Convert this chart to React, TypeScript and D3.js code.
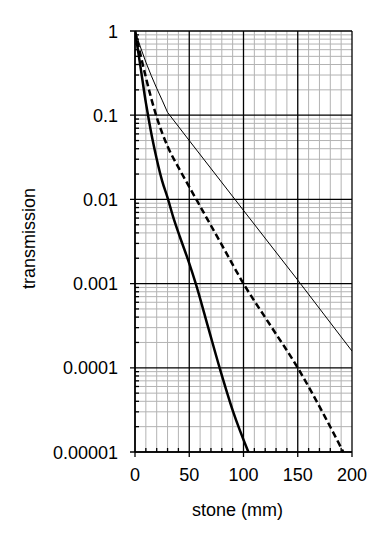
import React from "react";
import * as d3 from "d3";

const xTicks = [0, 50, 100, 150, 200];
const yTicks = [1, 0.1, 0.01, 0.001, 0.0001, 0.00001];
const yTickLabels = ["1", "0.1", "0.01", "0.001", "0.0001", "0.00001"];

const thinX = [0, 5, 10, 15, 20, 25, 30, 50, 100, 150, 200];
const thinT = [1, 0.646, 0.427, 0.295, 0.209, 0.151, 0.108, 0.05, 0.0074, 0.0011, 0.000158];

const dashedX = [0, 5, 10, 15, 20, 25, 30, 40, 50, 60, 80, 100, 125, 150, 175, 192];
const dashedT = [1, 0.525, 0.282, 0.158, 0.095, 0.0617, 0.0427, 0.024, 0.0141, 0.0083, 0.00288, 0.001, 0.000316, 0.0001, 0.0000263, 0.00001];

const thickX = [0, 5, 10, 12, 16, 20, 25, 30, 35, 41.5, 50, 56, 67.5, 78, 90.5, 104.5];
const thickT = [1, 0.38, 0.141, 0.1, 0.0525, 0.0302, 0.0166, 0.0105, 0.0063, 0.00355, 0.00174, 0.001, 0.0003, 0.0001, 0.00003, 0.00001];

const W = 386, H = 545;
const L = 135, R = 352, T = 31, B = 452;

export default function App() {
  const x = d3.scaleLinear().domain([0, 200]).range([L, R]);
  const y = d3.scaleLog().domain([0.00001, 1]).range([B, T]);

  const minorX = d3.range(10, 200, 10).filter((v) => v % 50 !== 0);
  const minorY: number[] = [];
  for (let e = -5; e < 0; e++) {
    for (let k = 2; k <= 9; k++) minorY.push(k * Math.pow(10, e));
  }

  const lineLin = d3
    .line<[number, number]>()
    .x((d) => x(d[0]))
    .y((d) => y(d[1]));
  const lineSmooth = d3
    .line<[number, number]>()
    .x((d) => x(d[0]))
    .y((d) => y(d[1]))
    .curve(d3.curveMonotoneX);

  const mk = (xs: number[], ts: number[]) => xs.map((v, i) => [v, ts[i]] as [number, number]);

  const font = "Arial, 'Liberation Sans', sans-serif";

  return (
    <svg width={W} height={H} style={{ position: "absolute", left: 0, top: 0, background: "#fff" }} fontFamily={font}>
      <defs>
        <clipPath id="plot">
          <rect x={L} y={T - 1} width={R - L} height={B - T + 2} />
        </clipPath>
      </defs>
      {minorX.map((v) => (
        <line key={"mx" + v} x1={x(v)} x2={x(v)} y1={T} y2={B} stroke="#b3b3b3" strokeWidth={1} />
      ))}
      {minorY.map((v, i) => (
        <line key={"my" + i} x1={L} x2={R} y1={y(v)} y2={y(v)} stroke="#b3b3b3" strokeWidth={1} />
      ))}
      {xTicks.map((v) => (
        <line key={"Mx" + v} x1={x(v)} x2={x(v)} y1={T} y2={B + 5} stroke="#000" strokeWidth={1.3} />
      ))}
      {yTicks.map((v, i) => (
        <line key={"My" + i} x1={L - 5} x2={R} y1={y(v)} y2={y(v)} stroke="#000" strokeWidth={1.3} />
      ))}
      {minorX.map((v) => (
        <line key={"tx" + v} x1={x(v)} x2={x(v)} y1={B} y2={B - 4} stroke="#000" strokeWidth={1.3} />
      ))}
      {minorY.map((v, i) => (
        <line key={"ty" + i} x1={L} x2={L + 4} y1={y(v)} y2={y(v)} stroke="#000" strokeWidth={1.3} />
      ))}
      <line x1={L} x2={L} y1={T} y2={B} stroke="#000" strokeWidth={1.5} />
      <line x1={L} x2={R} y1={B} y2={B} stroke="#000" strokeWidth={1.5} />

      <g clipPath="url(#plot)" fill="none" strokeLinejoin="round">
        <path d={lineLin(mk(thinX, thinT)) || ""} stroke="#000" strokeWidth={1} />
        <path d={lineSmooth(mk(dashedX, dashedT)) || ""} stroke="#000" strokeWidth={2.5} strokeDasharray="6.5,3.5" />
        <path d={lineSmooth(mk(thickX, thickT)) || ""} stroke="#000" strokeWidth={2.5} />
      </g>

      {xTicks.map((v) => (
        <text key={"lx" + v} x={x(v)} y={481} textAnchor="middle" fontSize={18} fill="#000">
          {v}
        </text>
      ))}
      {yTicks.map((v, i) => (
        <text key={"ly" + i} x={118} y={y(v) + 6.5} textAnchor="end" fontSize={18} fill="#000">
          {yTickLabels[i]}
        </text>
      ))}
      <text x={237.5} y={515.5} textAnchor="middle" fontSize={18} fill="#000">
        stone (mm)
      </text>
      <text transform="translate(35,238.5) rotate(-90)" textAnchor="middle" fontSize={18} fill="#000">
        transmission
      </text>
    </svg>
  );
}
